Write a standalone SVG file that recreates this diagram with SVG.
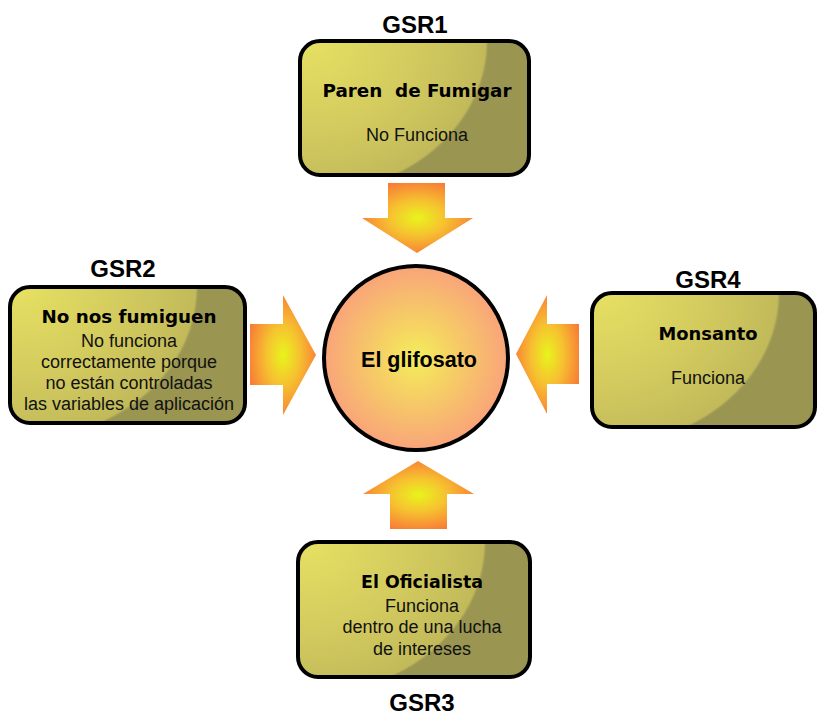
<svg xmlns="http://www.w3.org/2000/svg" width="817" height="717" viewBox="0 0 817 717">
<defs>
<radialGradient id="boxg" gradientUnits="userSpaceOnUse" cx="10" cy="0" r="180" fx="10" fy="0" gradientTransform="translate(10,0) scale(1,0.86) translate(-10,0)">
<stop offset="0" stop-color="#e6e062"/>
<stop offset="0.6" stop-color="#d2ca5e"/>
<stop offset="0.975" stop-color="#c2ba5a"/>
<stop offset="0.99" stop-color="#9c9752"/>
<stop offset="1" stop-color="#9a9550"/>
</radialGradient>
<radialGradient id="circg" cx="0.5" cy="0.5" r="0.5">
<stop offset="0" stop-color="#f4ee5a"/>
<stop offset="0.45" stop-color="#f6cc66"/>
<stop offset="1" stop-color="#f9a47a"/>
</radialGradient>
<radialGradient id="arrg" cx="0.5" cy="0.5" r="0.55">
<stop offset="0" stop-color="#e8f41c"/>
<stop offset="0.45" stop-color="#f6c230"/>
<stop offset="1" stop-color="#f87a36"/>
</radialGradient>
<style>
.box{fill:url(#boxg);stroke:#000;stroke-width:4}
.arr{fill:url(#arrg)}
.lbl{font-family:"Liberation Sans",Arial,sans-serif;font-weight:bold;font-size:24px;fill:#000;text-anchor:middle}
.ttl{font-family:"DejaVu Sans","Liberation Sans",sans-serif;font-weight:bold;font-size:18px;fill:#000;text-anchor:middle;white-space:pre}
.txt{font-family:"Liberation Sans",Arial,sans-serif;font-size:18px;fill:#111;text-anchor:middle}
</style>
</defs>
<rect width="817" height="717" fill="#fff"/>
<g id="connectors">
<polygon class="arr" points="388,183 445,183 445,218 473,218 417,253 362,218 388,218"/>
<polygon class="arr" points="250,324 283,324 283,295 316,355 283,415 283,385 250,385"/>
<polygon class="arr" points="579,324 547,324 547,295 516,354 547,414 547,384 579,384"/>
<polygon class="arr" points="418,461 474,494 447,494 447,529 390,529 390,494 363,494"/>
</g>
<g id="center">
<circle cx="416" cy="358" r="92" fill="url(#circg)" stroke="#000" stroke-width="4"/>
<text class="lbl" x="419" y="367" style="font-size:21.5px">El glifosato</text>
</g>
<g id="gsr1">
<text class="lbl" x="415" y="33">GSR1</text>
<rect class="box" transform="translate(300,41)" x="0" y="0" width="229" height="134" rx="20"/>
<text class="ttl" x="417" y="97" textLength="189" lengthAdjust="spacingAndGlyphs">Paren  de Fumigar</text>
<text class="txt" x="417" y="141">No Funciona</text>
</g>
<g id="gsr2">
<text class="lbl" x="123" y="277">GSR2</text>
<rect class="box" transform="translate(10,287)" x="0" y="0" width="235" height="136" rx="20"/>
<text class="ttl" x="129" y="323" textLength="175" lengthAdjust="spacingAndGlyphs">No nos fumiguen</text>
<text class="txt" x="129" y="347">No funciona</text>
<text class="txt" x="129" y="368">correctamente porque</text>
<text class="txt" x="129" y="389">no están controladas</text>
<text class="txt" x="129" y="410">las variables de aplicación</text>
</g>
<g id="gsr4">
<text class="lbl" x="708" y="288">GSR4</text>
<rect class="box" transform="translate(592,293)" x="0" y="0" width="223" height="134" rx="20"/>
<text class="ttl" x="708" y="340" textLength="99" lengthAdjust="spacingAndGlyphs">Monsanto</text>
<text class="txt" x="708" y="384">Funciona</text>
</g>
<g id="gsr3">
<rect class="box" transform="translate(298,542)" x="0" y="0" width="232" height="135" rx="20"/>
<text class="ttl" x="422" y="588" textLength="122" lengthAdjust="spacingAndGlyphs">El Oficialista</text>
<text class="txt" x="422" y="612">Funciona</text>
<text class="txt" x="422" y="633">dentro de una lucha</text>
<text class="txt" x="422" y="655">de intereses</text>
<text class="lbl" x="422" y="711">GSR3</text>
</g>
</svg>
